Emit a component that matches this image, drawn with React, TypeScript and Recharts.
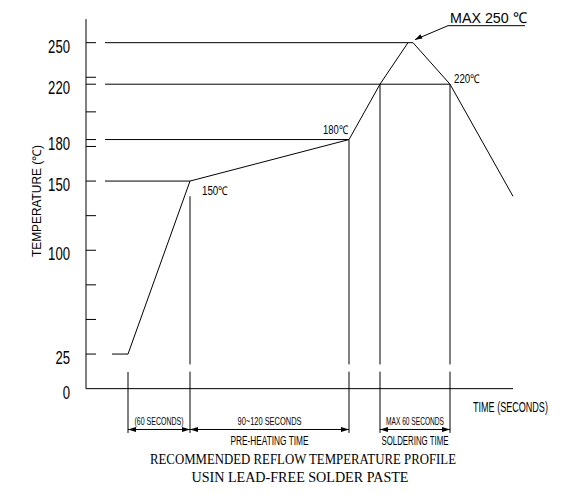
import React from 'react'
import { LineChart, Line, XAxis, YAxis, ReferenceLine, ReferenceDot } from 'recharts'

// reflow profile: time (s, from the axis origin) vs temperature (°C)
const PROFILE_TIME = [26, 42, 104, 263, 294, 322, 327, 364, 427]
const PROFILE_TEMP = [25, 25, 150, 180, 220, 250, 250, 220, 139]

const Y_TICKS = [0, 25, 50, 75, 100, 125, 150, 175, 180, 200, 220, 225, 250]
const Y_LABELS = [0, 25, 100, 150, 180, 220, 250]

// horizontal guide lines: level and the time where they meet the curve
const LEVEL_TEMPS = [250, 220, 180, 150]
const LEVEL_ENDS = [322, 364, 263, 104]
const LEVEL_START = 19

// vertical extension lines
const MARK_TIMES = [42, 104, 263, 294, 364]
const MARK_TOPS = [12, 139, 180, 220, 220]
const MARK_GAP = [17.5, 12.3]
const MARK_BOTTOM = -32

// dimension spans under the axis
const SPAN_FROM = [42, 104, 294]
const SPAN_TO = [104, 263, 364]
const SPAN_LABEL = ['(60 SECONDS)', '90~120 SECONDS', 'MAX 60 SECONDS']
const SPAN_SUB = ['', 'PRE-HEATING TIME', 'SOLDERING TIME']
const SPAN_LEVEL = -29.5

const AXIS_TOP = 267
const AXIS_END = 427

const data = PROFILE_TIME.map((t, i) => ({ t, temp: PROFILE_TEMP[i] }))

const CAD = "'Liberation Sans', Arial, sans-serif"
const SERIF = "'Liberation Serif', 'Times New Roman', serif"
const TEXT_W: Record<string, number> = {
  '(60 SECONDS)': 49,
  '90~120 SECONDS': 64,
  'MAX 60 SECONDS': 58,
  'PRE-HEATING TIME': 78,
  'SOLDERING TIME': 67,
  '150℃': 26,
  '180℃': 25,
  '220℃': 26,
  'MAX 250 ℃': 77,
}

function CadText({ x, y, text, size = 12, anchor = 'start' }: any) {
  return (
    <text
      x={x}
      y={y}
      fontFamily={CAD}
      fontSize={size}
      textAnchor={anchor}
      textLength={TEXT_W[text]}
      lengthAdjust='spacingAndGlyphs'
      fill='#000'
    >
      {text}
    </text>
  )
}

function YTick(props: any) {
  const { x, y, payload } = props
  const v = payload.value
  return (
    <g>
      {v !== 0 && <line x1={x} x2={x + 10} y1={y} y2={y} stroke='#000' />}
      {Y_LABELS.includes(v) && (
        <text
          x={x - 16}
          y={y + 10}
          textAnchor='end'
          fontFamily={CAD}
          fontSize={18}
          textLength={String(v).length * 7.3}
          lengthAdjust='spacingAndGlyphs'
          fill='#000'
        >
          {v}
        </text>
      )}
    </g>
  )
}

const dimShape = (label: string, sub: string) => (p: any) => {
  const { x1, y1, x2 } = p
  const mid = (x1 + x2) / 2
  return (
    <g>
      <line x1={x1} y1={y1} x2={x2} y2={y1} stroke='#000' />
      <path d={`M${x1},${y1} l8,-2.5 l0,5 z`} fill='#000' />
      <path d={`M${x2},${y1} l-8,-2.5 l0,5 z`} fill='#000' />
      <CadText x={mid} y={y1 - 4} text={label} size={11} anchor='middle' />
      {sub && <CadText x={mid} y={y1 + 16} text={sub} size={12} anchor='middle' />}
    </g>
  )
}

const pointLabel = (text: string, dx: number, dy: number, anchor = 'start') => (p: any) =>
  <CadText x={p.cx + dx} y={p.cy + dy} text={text} size={12} anchor={anchor} />

const peakLabel = (p: any) => {
  const tx = p.cx + 2
  const ty = p.cy - 3
  const lx = p.cx + 35
  const ly = p.cy - 17
  return (
    <g>
      <line x1={tx} y1={ty} x2={lx} y2={ly} stroke='#000' />
      <path d={`M${tx},${ty} l7.5,-1.2 l-2.2,-4.2 z`} fill='#000' />
      <line x1={lx} y1={ly} x2={p.cx + 112} y2={ly} stroke='#000' />
      <CadText x={lx + 2} y={ly - 3} text='MAX 250 ℃' size={15} />
    </g>
  )
}

export default function App() {
  const black = '#000'
  return (
    <div style={{ position: 'absolute', left: 0, top: 0, width: 563, height: 494, background: '#fff' }}>
      <LineChart
        width={563}
        height={494}
        data={data}
        margin={{ top: 15, right: 47, bottom: 50, left: 0 }}
      >
        <XAxis type='number' dataKey='t' domain={[0, 430]} hide />
        <YAxis
          type='number'
          domain={[-40, 270]}
          width={86}
          ticks={Y_TICKS}
          interval={0}
          axisLine={false}
          tickLine={false}
          tickSize={0}
          tickMargin={0}
          tick={<YTick />}
        />
        {/* axes */}
        <ReferenceLine segment={[{ x: 0, y: 0 }, { x: 0, y: AXIS_TOP }]} stroke={black} />
        <ReferenceLine segment={[{ x: 0, y: 0 }, { x: AXIS_END, y: 0 }]} stroke={black} />

        {LEVEL_TEMPS.map((temp, i) => (
          <ReferenceLine
            key={`lv-${temp}`}
            segment={[{ x: LEVEL_START, y: temp }, { x: LEVEL_ENDS[i], y: temp }]}
            stroke={black}
          />
        ))}

        {MARK_TIMES.map((t, i) =>
          MARK_TOPS[i] > MARK_GAP[0] ? (
            <ReferenceLine
              key={`mk-a-${t}`}
              segment={[{ x: t, y: MARK_TOPS[i] }, { x: t, y: MARK_GAP[0] }]}
              stroke={black}
            />
          ) : null
        )}
        {MARK_TIMES.map((t, i) => (
          <ReferenceLine
            key={`mk-b-${t}`}
            segment={[{ x: t, y: Math.min(MARK_TOPS[i], MARK_GAP[1]) }, { x: t, y: MARK_BOTTOM }]}
            stroke={black}
          />
        ))}

        {SPAN_FROM.map((from, i) => (
          <ReferenceLine
            key={`sp-${from}`}
            segment={[{ x: from, y: SPAN_LEVEL }, { x: SPAN_TO[i], y: SPAN_LEVEL }]}
            stroke={black}
            shape={dimShape(SPAN_LABEL[i], SPAN_SUB[i])}
          />
        ))}

        <Line
          type='linear'
          dataKey='temp'
          stroke={black}
          strokeWidth={1}
          dot={false}
          isAnimationActive={false}
        />

        <ReferenceDot x={104} y={150} r={0} shape={pointLabel('150℃', 12, 14)} ifOverflow='visible' />
        <ReferenceDot x={263} y={180} r={0} shape={pointLabel('180℃', -1, -6, 'end')} ifOverflow='visible' />
        <ReferenceDot x={364} y={220} r={0} shape={pointLabel('220℃', 4, -1)} ifOverflow='visible' />
        <ReferenceDot x={327} y={250} r={0} shape={peakLabel} ifOverflow='visible' />
      </LineChart>

      <svg
        width={563}
        height={494}
        style={{ position: 'absolute', left: 0, top: 0, pointerEvents: 'none' }}
      >
        <text
          transform='translate(41,201) rotate(-90)'
          textAnchor='middle'
          fontFamily={CAD}
          fontSize={12}
          textLength={112}
          lengthAdjust='spacingAndGlyphs'
        >
          TEMPERATURE (℃)
        </text>
        <text
          transform='translate(473,412) scale(0.647,1)'
          fontFamily={CAD}
          fontSize={14}
        >
          TIME (SECONDS)
        </text>
        <text
          x={303}
          y={464}
          textAnchor='middle'
          fontFamily={SERIF}
          fontSize={14}
          textLength={306}
          lengthAdjust='spacingAndGlyphs'
        >
          RECOMMENDED REFLOW TEMPERATURE PROFILE
        </text>
        <text
          x={300}
          y={482}
          textAnchor='middle'
          fontFamily={SERIF}
          fontSize={14}
          textLength={217}
          lengthAdjust='spacingAndGlyphs'
        >
          USIN LEAD-FREE SOLDER PASTE
        </text>
      </svg>
    </div>
  )
}
